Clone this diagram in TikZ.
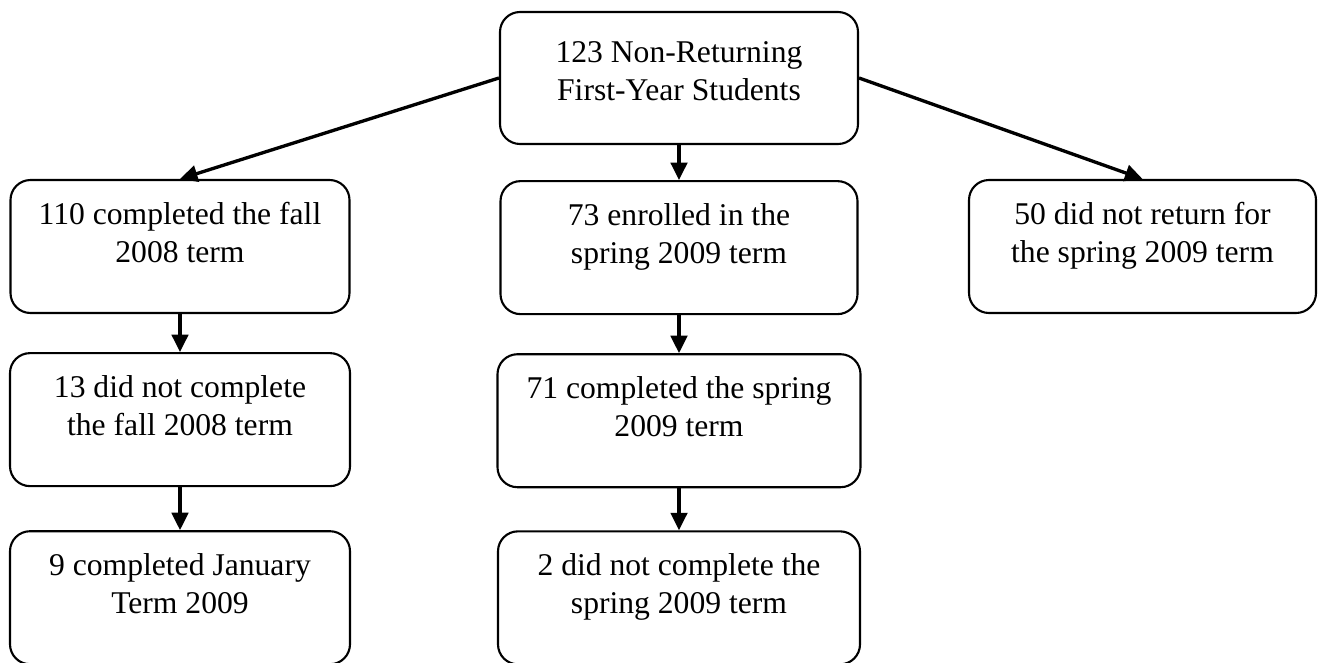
\documentclass[tikz,border=0pt]{standalone}
\usepackage{fontspec}
\setmainfont{Liberation Serif}
\usetikzlibrary{positioning}
\usetikzlibrary{arrows.meta}
\newcommand{\stagetext}[2][1.78cm]{\begin{minipage}[c][#1][t]{6.4cm}\centering #2\end{minipage}}
\tikzset{stage/.style={draw, line width=1.2pt, rounded corners=0.4cm, inner xsep=0.1cm, inner ysep=0.44cm, font=\fontsize{18pt}{21.6pt}\selectfont},
flow/.style={line width=1.9pt, -{Triangle[width=0.33cm,length=0.35cm]}}}

\begin{document}
\begin{tikzpicture}
\useasboundingbox (0,0) rectangle (26.36,-13.24);
\node (top) at (13.58,-1.56) [stage, inner ysep=0.6cm, minimum width=7.16cm] {\stagetext[1.44cm]{123 Non-Returning\\First-Year Students}};
\node (fall) at (3.6,-4.93) [stage, minimum width=6.78cm] {\stagetext{110 completed the fall\\2008 term}};
\node (enrol) [below=0.7cm of top, stage, minimum width=7.14cm] {\stagetext{73 enrolled in the\\spring 2009 term}};
\node (noret) at (22.85,-4.93) [stage, minimum width=6.94cm] {\stagetext{50 did not return for\\the spring 2009 term}};
\node (fallnot) [below=0.76cm of fall, stage, minimum width=6.8cm] {\stagetext{13 did not complete\\the fall 2008 term}};
\node (jan) [below=0.86cm of fallnot, stage, minimum width=6.8cm] {\stagetext{9 completed January\\Term 2009}};
\node (done) [below=0.76cm of enrol, stage, minimum width=7.26cm] {\stagetext{71 completed the spring\\2009 term}};
\node (spnot) [below=0.84cm of done, stage, minimum width=7.24cm] {\stagetext{2 did not complete the\\spring 2009 term}};
\draw[flow] (top.west) -- (fall.north);
\draw[flow] (top.south) -- (enrol.north);
\draw[flow] (top.east) -- (noret.north);
\draw[flow] (fall.south) -- (fallnot.north);
\draw[flow] (fallnot.south) -- (jan.north);
\draw[flow] (enrol.south) -- (done.north);
\draw[flow] (done.south) -- (spnot.north);
\end{tikzpicture}
\end{document}
